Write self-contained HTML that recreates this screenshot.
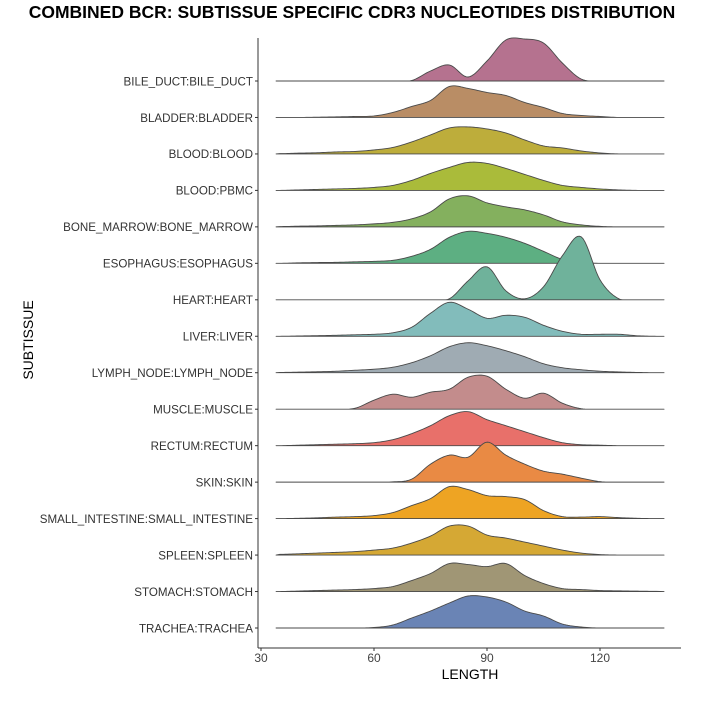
<!DOCTYPE html>
<html><head><meta charset="utf-8">
<style>
body{margin:0;background:#fff}
svg{display:block;font-family:"Liberation Sans",sans-serif}
</style></head>
<body>
<svg id="chart" width="702" height="702" viewBox="0 0 702 702">
<text x="352" y="18" text-anchor="middle" font-size="17.5" font-weight="bold" fill="#000">COMBINED BCR: SUBTISSUE SPECIFIC CDR3 NUCLEOTIDES DISTRIBUTION</text>
<g id="ridges"></g>
<line x1="258" y1="38" x2="258" y2="648" stroke="#333" stroke-width="1"/>
<line x1="258" y1="648" x2="681" y2="648" stroke="#333" stroke-width="1"/>
<g id="xticks"></g>
<g id="ylabels"></g>
<text x="470" y="679" text-anchor="middle" font-size="14" fill="#000">LENGTH</text>
<text x="0" y="0" transform="translate(33,340) rotate(-90)" text-anchor="middle" font-size="14" fill="#000">SUBTISSUE</text>
</svg>
<script>
const categories = ["BILE_DUCT:BILE_DUCT","BLADDER:BLADDER","BLOOD:BLOOD","BLOOD:PBMC","BONE_MARROW:BONE_MARROW","ESOPHAGUS:ESOPHAGUS","HEART:HEART","LIVER:LIVER","LYMPH_NODE:LYMPH_NODE","MUSCLE:MUSCLE","RECTUM:RECTUM","SKIN:SKIN","SMALL_INTESTINE:SMALL_INTESTINE","SPLEEN:SPLEEN","STOMACH:STOMACH","TRACHEA:TRACHEA"];
const gridLengths = [35,40,45,50,55,60,65,70,75,80,85,90,95,100,105,110,115,120,125,130,135];
const dBile = [0,0,0,0,0,0,0,0.5,10,16,4,20,41,42,38,18,2,0,0,0,0];
const dBladder = [0,0,0.3,0.6,1,1.5,5,11,17,31,29,25,22,15,10,4,2,1,0,0,0];
const dBlood = [0.3,0.8,1.2,2,2.5,4,6.5,12,19,26,27,25,21,14,8,6,3,1,0,0,0];
const dPbmc = [0,0.5,1,1.5,2,3,5,10,17,23,28,27,22,16,10,5,3,1.5,0.5,0,0];
const dBoneMarrow = [0.3,0.7,1,1.5,2,3,4.5,8,15,28,31,24,20,17,12,5,2,0.5,0,0,0];
const dEsophagus = [0,0.5,0.8,1,1.5,2,3,7,14,26,32,30,26,20,12,4,1,0,0,0,0];
const dHeart = [0,0,0,0,0,0,0,0,0,1,19,33,9,1,13,44,63,20,1,0,0];
const dLiver = [0,0.3,0.6,1,1.5,2,3.5,9,23,34,27,18,21,19,11,5,2,2,2,0.5,0];
const dLymph = [0.3,0.6,1,1.5,2.5,3.5,5.5,10,17,26,30,27,22,16,9,5,3,1.5,0.8,0.3,0];
const dMuscle = [0,0,0,0,1,9,15,12,17,20,32,33,20,11,16,6,0.5,0,0,0,0];
const dRectum = [0,0.5,1,1.5,2,3,6,12,20,30,34,26,20,14,8,3,1,0.5,0,0,0];
const dSkin = [0,0,0,0,0,0,0.3,3,18,27,25,40,27,18,11,8,4,0.5,0,0,0];
const dSmallInt = [0,0.3,0.8,1.5,2,3,6,13,20,32,29,23,22,19,8,2,1.5,2,1,0.3,0];
const dSpleen = [0.7,1.3,2,2.7,3.5,5,7,12,19,29,29,20,17,13,9,5,2,0.5,0,0,0];
const dStomach = [0,0.5,1,1.5,2,3,5,11,18,28,27,25,28,16,8,3,2,1,0.7,0.4,0.2];
const dTrachea = [0,0,0,0,0,0.5,3,10,17,25,32,31,26,17,12,4,1,0,0,0,0];
const series = [dBile,dBladder,dBlood,dPbmc,dBoneMarrow,dEsophagus,dHeart,dLiver,dLymph,dMuscle,dRectum,dSkin,dSmallInt,dSpleen,dStomach,dTrachea];
const colors = ["#b5728f","#b98d65","#bdad3b","#aabb3a","#84b05e","#5daf82","#6fb29b","#82bcbb","#9fabb3","#c38c8c","#e8706a","#e98a44","#eea423","#d5a834","#a09675","#6a84b5"];
const xTicks = [30,60,90,120];

const NS="http://www.w3.org/2000/svg";
function xs(v){return 261+(v-30)*(113/30);}
function ys(i){return 81+i*(547/15);}
function hs(d){return d;}
const ridges=document.getElementById('ridges');
const ylab=document.getElementById('ylabels');
const xt=document.getElementById('xticks');

function cr(p0,p1,p2,p3,t){const t2=t*t,t3=t2*t;return 0.5*((2*p1)+(-p0+p2)*t+(2*p0-5*p1+4*p2-p3)*t2+(-p0+3*p1-3*p2+p3)*t3);}

series.forEach((arr,i)=>{
  const base=ys(i);
  const pts=[[xs(34),base]];
  const n=arr.length;
  for(let k=0;k<n-1;k++){
    const p0=arr[Math.max(0,k-1)],p1=arr[k],p2=arr[k+1],p3=arr[Math.min(n-1,k+2)];
    for(let s=0;s<10;s++){
      const t=s/10;
      const v=Math.max(0,cr(p0,p1,p2,p3,t));
      const L=gridLengths[k]+(gridLengths[k+1]-gridLengths[k])*t;
      pts.push([xs(L),base-hs(v)]);
    }
  }
  pts.push([xs(gridLengths[n-1]),base-hs(arr[n-1])]);
  pts.push([xs(137),base]);
  const d='M'+pts.map(p=>p[0].toFixed(2)+','+p[1].toFixed(2)).join('L')+'Z';
  const path=document.createElementNS(NS,'path');
  path.setAttribute('d',d);
  path.setAttribute('fill',colors[i]);
  path.setAttribute('stroke','#4a4a4a');
  path.setAttribute('stroke-width','0.9');
  path.setAttribute('stroke-linejoin','round');
  
  
  ridges.appendChild(path);

  const tk=document.createElementNS(NS,'line');
  tk.setAttribute('x1',255);tk.setAttribute('x2',258);tk.setAttribute('y1',base);tk.setAttribute('y2',base);
  tk.setAttribute('stroke','#333');
  
  
  ylab.appendChild(tk);
  const tx=document.createElementNS(NS,'text');
  tx.setAttribute('x',253);tx.setAttribute('y',base+4.3);
  tx.setAttribute('text-anchor','end');tx.setAttribute('font-size','11.6');tx.setAttribute('fill','#333');
  tx.textContent=categories[i];
  
  
  ylab.appendChild(tx);
});

xTicks.forEach(v=>{
  const l=document.createElementNS(NS,'line');
  l.setAttribute('x1',xs(v));l.setAttribute('x2',xs(v));l.setAttribute('y1',648);l.setAttribute('y2',651);
  l.setAttribute('stroke','#333');
  
  
  xt.appendChild(l);
  const t=document.createElementNS(NS,'text');
  t.setAttribute('x',xs(v));t.setAttribute('y',662);
  t.setAttribute('text-anchor','middle');t.setAttribute('font-size','12');t.setAttribute('fill','#444');
  t.textContent=v;
  
  
  xt.appendChild(t);
});
</script>
</body></html>
